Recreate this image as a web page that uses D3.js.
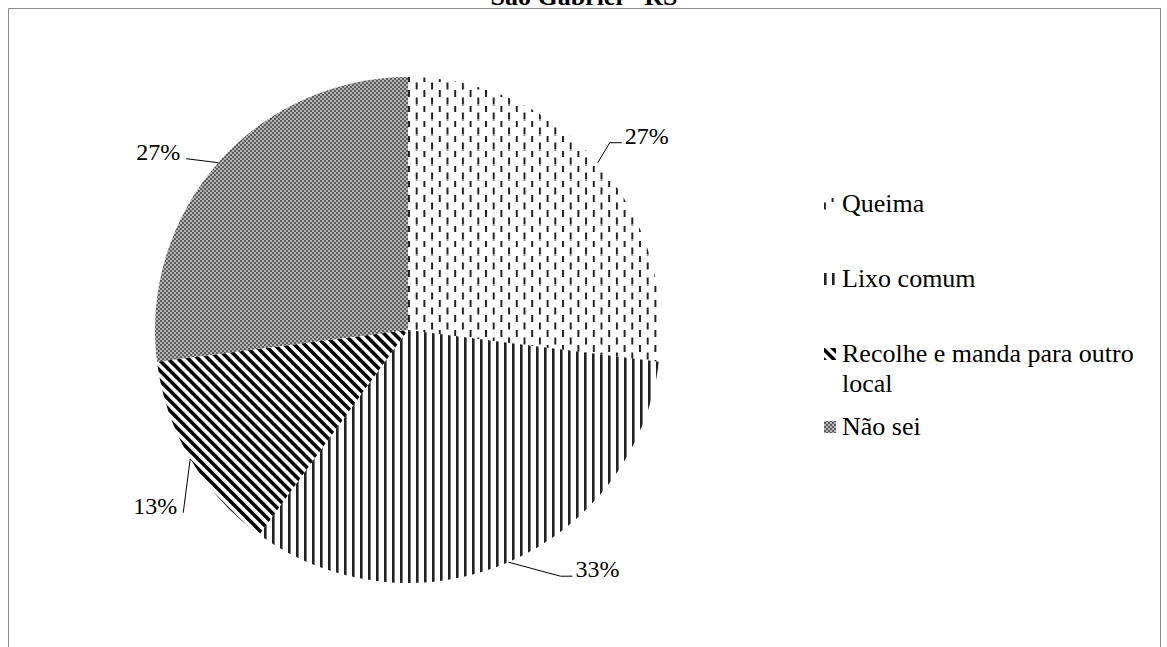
<!DOCTYPE html>
<html>
<head>
<meta charset="utf-8">
<script src="https://cdn.jsdelivr.net/npm/d3@7"></script>
<style>
  html, body { margin: 0; padding: 0; background: #fff; }
  svg text, svg tspan { font-family: "Liberation Serif", "Times New Roman", serif; fill: #000; }
</style>
</head>
<body>
<svg id="chart" width="1167" height="647"></svg>
<script>
// dados do gráfico
const titulo = "São Gabriel - RS";
const categorias = ["Queima", "Lixo comum", "Recolhe e manda para outro local", "Não sei"];
const valores = [27, 33, 13, 27];
const rotulos = ["27%", "33%", "13%", "27%"];
const padroes = ["pat-queima", "pat-lixo", "pat-recolhe", "pat-naosei"];

// layout
const W = 1167, H = 647;
const cx = 408, cy = 330, raio = 253;
const fonte = "'Liberation Serif', 'Times New Roman', serif";
// deslocamento do cotovelo da linha guia em relação à borda da fatia
const guia = [[12, -20], [52, 14], [-7, 54], [-32, -4]];

const svg = d3.select("#chart");
const defs = svg.append("defs");

// Queima: traços verticais alternados
const pq = defs.append("pattern").attr("id", "pat-queima")
  .attr("patternUnits", "userSpaceOnUse").attr("width", 15.4).attr("height", 15);
pq.append("rect").attr("x", 0).attr("y", 0).attr("width", 2).attr("height", 7).attr("fill", "#222");
pq.append("rect").attr("x", 7.7).attr("y", 7.5).attr("width", 2).attr("height", 7).attr("fill", "#222");

// Lixo comum: listras verticais
const pl = defs.append("pattern").attr("id", "pat-lixo")
  .attr("patternUnits", "userSpaceOnUse").attr("width", 8).attr("height", 8);
pl.append("rect").attr("x", 0).attr("y", 0).attr("width", 2.6).attr("height", 8).attr("fill", "#222");

// Recolhe: listras diagonais largas
const pr = defs.append("pattern").attr("id", "pat-recolhe")
  .attr("patternUnits", "userSpaceOnUse").attr("width", 7.1).attr("height", 7.1)
  .attr("patternTransform", "rotate(-45)");
pr.append("rect").attr("x", 0).attr("y", 0).attr("width", 3.6).attr("height", 7.1).attr("fill", "#000");

// Não sei: xadrez cinza fino
const pn = defs.append("pattern").attr("id", "pat-naosei")
  .attr("patternUnits", "userSpaceOnUse").attr("width", 4).attr("height", 4);
pn.append("rect").attr("width", 4).attr("height", 4).attr("fill", "#5e5e5e");
pn.append("rect").attr("x", 0).attr("y", 0).attr("width", 2).attr("height", 2).attr("fill", "#b4b4b4");
pn.append("rect").attr("x", 2).attr("y", 2).attr("width", 2).attr("height", 2).attr("fill", "#b4b4b4");

// moldura
svg.append("rect")
  .attr("x", 8.5).attr("y", 8.5).attr("width", 1152).attr("height", 680)
  .attr("fill", "none").attr("stroke", "#8c8c8c").attr("stroke-width", 1);

// título (cortado no topo, como na figura)
svg.append("text")
  .attr("x", 584).attr("y", 5)
  .attr("text-anchor", "middle")
  .attr("font-family", fonte)
  .style("font-size", "26px").style("font-weight", "bold")
  .text(titulo);

// pizza
const pie = d3.pie().sort(null).value(d => d)(valores);
const arc = d3.arc().innerRadius(0).outerRadius(raio);

const g = svg.append("g").attr("transform", `translate(${cx},${cy})`);
g.selectAll("path.fatia")
  .data(pie)
  .enter().append("path")
  .attr("class", "fatia")
  .attr("d", arc)
  .attr("fill", (d, i) => `url(#${padroes[i]})`);

// rótulos com linhas guia
pie.forEach((d, i) => {
  const meio = (d.startAngle + d.endAngle) / 2;
  const ex = Math.sin(meio) * raio, ey = -Math.cos(meio) * raio;
  const kx = ex + guia[i][0], ky = ey + guia[i][1];
  const direita = Math.sin(meio) > 0;
  const pts = [[ex, ey], [kx, ky]];
  if (direita) pts.push([kx + 12, ky]);
  g.append("path")
    .attr("d", d3.line()(pts))
    .attr("fill", "none").attr("stroke", "#000").attr("stroke-width", 1);
  g.append("text")
    .attr("x", direita ? kx + 15 : kx - 6)
    .attr("y", ky + 1)
    .attr("text-anchor", direita ? "start" : "end")
    .attr("font-family", fonte)
    .style("font-size", "24px")
    .text(rotulos[i]);
});

// legenda
const leg = svg.append("g").attr("class", "legenda");
const legBase = [212, 287, 362, 435];
const larguraMax = 310;
categorias.forEach((c, i) => {
  const item = leg.append("g");
  item.append("rect")
    .attr("x", 824).attr("y", legBase[i] - 14).attr("width", 12).attr("height", 12)
    .attr("fill", `url(#${padroes[i]})`);
  const t = item.append("text").attr("x", 842).attr("y", legBase[i])
    .attr("font-family", fonte).style("font-size", "26px");
  // quebra de linha simples por largura
  const palavras = c.split(" ");
  let linha = [];
  let ts = t.append("tspan").attr("x", 842).attr("dy", 0);
  palavras.forEach(p => {
    linha.push(p);
    ts.text(linha.join(" "));
    if (ts.node().getComputedTextLength() > larguraMax && linha.length > 1) {
      linha.pop();
      ts.text(linha.join(" "));
      linha = [p];
      ts = t.append("tspan").attr("x", 842).attr("dy", 30).text(p);
    }
  });
});
</script>
</body>
</html>
